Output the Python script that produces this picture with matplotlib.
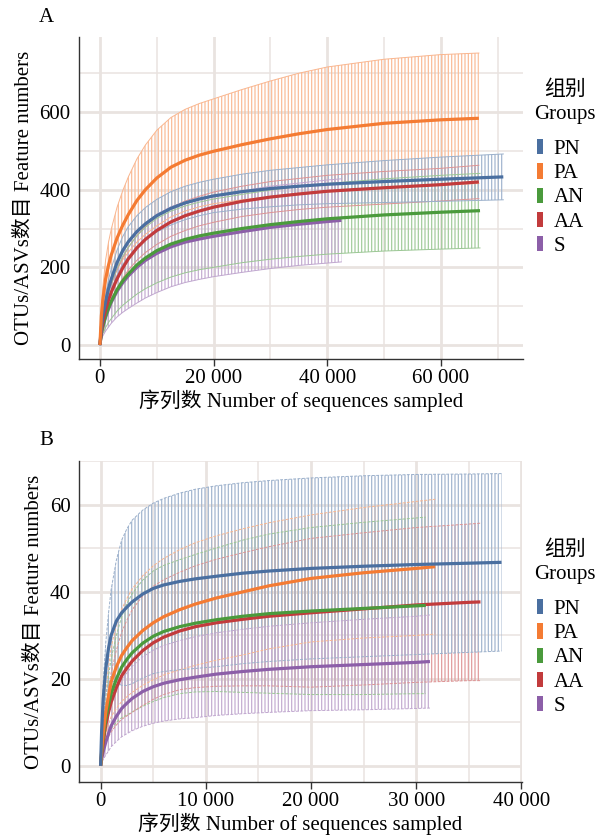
import matplotlib
matplotlib.use('Agg')
import matplotlib.pyplot as plt
import matplotlib.patches as mpatches
import numpy as np
from matplotlib.colors import to_rgb
from matplotlib.ticker import MultipleLocator, FuncFormatter

plt.rcParams['font.family'] = ['Liberation Serif', 'Noto Sans CJK SC']
plt.rcParams['hatch.linewidth'] = 0.9

GROUPS = ['PN', 'PA', 'AN', 'AA', 'S']
COLORS = {'PN': '#4a6fa0', 'PA': '#f47b33', 'AN': '#4a9a3c',
          'AA': '#c23b3c', 'S': '#8c5fa8'}

# ---- panel A: OTUs (depth, mean, sd) ----
A_PA_DEPTH = [0, 250, 500, 1000, 1500, 2000, 3000, 4000, 5000, 6500, 8000,
              10000, 12500, 15000, 17500, 20000, 25000, 30000, 35000, 40000,
              50000, 60000, 66700]
A_PA_MEAN = [0, 75, 115, 170, 205, 232, 275, 308, 336, 372, 400, 430, 458,
             476, 489, 499, 516, 531, 544, 555, 571, 580, 584]
A_PA_SD = [0, 22, 33, 49, 59, 67, 79, 89, 97, 107, 115, 123, 128, 131, 133,
           135, 142, 149, 156, 161, 165, 168, 168]

A_PN_DEPTH = [0, 250, 500, 1000, 1500, 2000, 3000, 4000, 5000, 6500, 8000,
              10000, 12500, 15000, 17500, 20000, 25000, 30000, 35000, 40000,
              50000, 60000, 71000]
A_PN_MEAN = [0, 45, 75, 112, 145, 170, 212, 243, 266, 292, 312, 333, 352,
             366, 376, 384, 395, 403, 409, 414, 421, 427, 433]
A_PN_SD = [0, 8, 12, 18, 23, 27, 32, 36, 39, 41, 42, 42, 43, 43, 43, 43, 45,
           47, 48, 50, 54, 57, 59]

A_AA_DEPTH = [0, 250, 500, 1000, 1500, 2000, 3000, 4000, 5000, 6500, 8000,
              10000, 12500, 15000, 17500, 20000, 25000, 30000, 35000, 40000,
              50000, 60000, 66700]
A_AA_MEAN = [0, 35, 58, 90, 115, 136, 170, 198, 222, 250, 272, 295, 317, 333,
             345, 355, 370, 381, 389, 396, 405, 413, 420]
A_AA_SD = [0, 6, 9, 13, 16, 19, 23, 26, 29, 32, 34, 36, 37, 38, 38, 39, 39,
           40, 40, 41, 42, 42, 43]

A_AN_DEPTH = [0, 250, 500, 1000, 1500, 2000, 3000, 4000, 5000, 6500, 8000,
              10000, 12500, 15000, 17500, 20000, 25000, 30000, 35000, 40000,
              50000, 60000, 66900]
A_AN_MEAN = [0, 30, 48, 75, 96, 113, 142, 165, 183, 206, 224, 243, 260, 272,
             281, 288, 300, 310, 318, 325, 335, 342, 346]
A_AN_SD = [0, 12, 20, 30, 38, 45, 55, 63, 69, 75, 79, 83, 85, 86, 87, 88, 88,
           89, 90, 91, 93, 95, 96]

A_S_DEPTH = [0, 250, 500, 1000, 1500, 2000, 3000, 4000, 5000, 6500, 8000,
             10000, 12500, 15000, 17500, 20000, 25000, 30000, 35000, 40000,
             42500]
A_S_MEAN = [0, 30, 47, 72, 92, 110, 138, 160, 178, 200, 218, 236, 253, 265,
            273, 280, 292, 303, 311, 318, 321]
A_S_SD = [0, 15, 24, 36, 46, 54, 66, 76, 84, 92, 97, 101, 103, 104, 104, 104,
          105, 106, 106, 107, 107]

# ---- panel B: ASVs (depth, mean, sd) ----
B_PN_DEPTH = [0, 100, 250, 500, 750, 1000, 1500, 2000, 2500, 3000, 4000, 5000,
              6000, 7500, 9000, 11000, 13500, 16000, 20000, 25000, 30000,
              35000, 38100]
B_PN_MEAN = [0, 8, 15.5, 22.5, 27, 30, 33.3, 35.2, 36.5, 37.7, 39.5, 40.8,
             41.6, 42.4, 43, 43.6, 44.3, 44.8, 45.4, 45.9, 46.3, 46.6, 46.8]
B_PN_SD = [0, 2, 4, 6, 8, 10.5, 14, 16.7, 18, 18.8, 19.3, 19.6, 19.9, 20.3,
           20.6, 20.8, 20.8, 20.8, 20.8, 20.8, 20.7, 20.5, 20.4]

B_PA_DEPTH = [0, 100, 250, 500, 750, 1000, 1500, 2000, 2500, 3000, 4000, 5000,
              6000, 7500, 9000, 11000, 13500, 16000, 20000, 25000, 30000,
              31800]
B_PA_MEAN = [0, 3.5, 7.5, 12.5, 16, 19.3, 22.8, 25.4, 27.2, 28.8, 31.1, 32.9,
             34.3, 35.9, 37.2, 38.6, 40, 41.4, 43.1, 44.4, 45.4, 45.8]
B_PA_SD = [0, 1.5, 3, 5, 6.5, 8, 9.6, 10.6, 11.3, 11.9, 12.6, 13.1, 13.4,
           13.8, 14.1, 14.3, 14.5, 14.5, 14.6, 15, 15.4, 15.5]

B_AN_DEPTH = [0, 100, 250, 500, 750, 1000, 1500, 2000, 2500, 3000, 4000, 5000,
              6000, 7500, 9000, 11000, 13500, 16000, 20000, 25000, 30000,
              30900]
B_AN_MEAN = [0, 3, 6.5, 11, 14, 16.6, 20, 22.7, 24.5, 26, 28.2, 29.8, 30.9,
             32, 32.8, 33.6, 34.4, 35, 35.6, 36.2, 36.8, 36.9]
B_AN_SD = [0, 1.5, 3, 5, 6.5, 8, 10, 11.6, 12.8, 13.6, 14.5, 15, 15.2, 15.4,
           15.8, 16.5, 17.5, 18.3, 19.2, 19.8, 20.2, 20.3]

B_AA_DEPTH = [0, 100, 250, 500, 750, 1000, 1500, 2000, 2500, 3000, 4000, 5000,
              6000, 7500, 9000, 11000, 13500, 16000, 20000, 25000, 30000,
              35000, 36100]
B_AA_MEAN = [0, 2.5, 5.5, 9.5, 12.3, 14.6, 18, 20.7, 22.5, 24.1, 26.5, 28.3,
             29.6, 31, 32, 32.9, 33.7, 34.4, 35.2, 36.1, 37, 37.6, 37.7]
B_AA_SD = [0, 1.2, 2.5, 4.2, 5.6, 6.8, 8.6, 10, 11, 11.8, 12.6, 13, 13.2,
           13.5, 14, 14.6, 15.3, 16, 17.1, 17.5, 17.8, 18, 18.1]

B_S_DEPTH = [0, 100, 250, 500, 750, 1000, 1500, 2000, 2500, 3000, 4000, 5000,
             6000, 7500, 9000, 11000, 13500, 16000, 20000, 25000, 30000,
             31300]
B_S_MEAN = [0, 1.5, 3.3, 5.5, 7.4, 9.2, 11.4, 13.2, 14.4, 15.5, 17.1, 18.2,
            19, 19.8, 20.4, 21.1, 21.7, 22.2, 22.8, 23.3, 23.8, 24]
B_S_SD = [0, 0.8, 1.8, 3, 4, 4.8, 5.8, 6.5, 7, 7.4, 8, 8.4, 8.7, 9, 9.3, 9.5,
          9.7, 9.9, 10.1, 10.4, 10.6, 10.7]

# draw order of the bands (later on top)
PANEL_A = {'PA': (A_PA_DEPTH, A_PA_MEAN, A_PA_SD),
           'AA': (A_AA_DEPTH, A_AA_MEAN, A_AA_SD),
           'AN': (A_AN_DEPTH, A_AN_MEAN, A_AN_SD),
           'PN': (A_PN_DEPTH, A_PN_MEAN, A_PN_SD),
           'S': (A_S_DEPTH, A_S_MEAN, A_S_SD)}
PANEL_B = {'PA': (B_PA_DEPTH, B_PA_MEAN, B_PA_SD),
           'AN': (B_AN_DEPTH, B_AN_MEAN, B_AN_SD),
           'AA': (B_AA_DEPTH, B_AA_MEAN, B_AA_SD),
           'PN': (B_PN_DEPTH, B_PN_MEAN, B_PN_SD),
           'S': (B_S_DEPTH, B_S_MEAN, B_S_SD)}

GRID = '#e9e3e0'
FS = 15


def tint(c, a):
    r, g, b = to_rgb(c)
    return (1 - a + a * r, 1 - a + a * g, 1 - a + a * b)


def thousands(v, pos):
    return '{:,}'.format(int(v)).replace(',', ' ')


def draw_panel(ax, data, line_order, xmaj, ymaj, xlim, ylim, edge_ls):
    z = 2
    for g, (d, m, s) in data.items():
        d = np.array(d, float)
        m = np.array(m, float)
        s = np.array(s, float)
        c = COLORS[g]
        ax.fill_between(d, m - s, m + s, facecolor='none',
                        edgecolor=tint(c, 0.5), hatch='|' * 5,
                        linewidth=0, zorder=z)
        ax.plot(d, m + s, color=tint(c, 0.55), lw=0.7, ls=edge_ls, zorder=4)
        ax.plot(d, m - s, color=tint(c, 0.55), lw=0.7, ls=edge_ls, zorder=4)
        z += 0.2
    for g in line_order:
        d, m, s = data[g]
        ax.plot(d, m, color=COLORS[g], lw=2.3, zorder=5,
                solid_capstyle='butt', solid_joinstyle='round')

    ax.set_xlim(*xlim)
    ax.set_ylim(*ylim)
    ax.xaxis.set_major_locator(MultipleLocator(xmaj))
    ax.xaxis.set_minor_locator(MultipleLocator(xmaj / 2))
    ax.yaxis.set_major_locator(MultipleLocator(ymaj))
    ax.yaxis.set_minor_locator(MultipleLocator(ymaj / 2))
    ax.xaxis.set_major_formatter(FuncFormatter(thousands))
    ax.grid(which='major', color=GRID, lw=2.0, zorder=0)
    ax.grid(which='minor', color=GRID, lw=1.1, zorder=0)
    ax.set_axisbelow(True)
    for sp in ['top', 'right']:
        ax.spines[sp].set_visible(False)
    for sp in ['left', 'bottom']:
        ax.spines[sp].set_color('#333333')
        ax.spines[sp].set_linewidth(1.0)
    ax.tick_params(axis='x', which='major', length=5, width=1,
                   color='#333333', labelsize=FS, pad=2)
    ax.tick_params(axis='y', which='major', length=0, labelsize=FS, pad=6)
    ax.tick_params(which='minor', length=0)
    ax.set_xlabel('序列数 Number of sequences sampled', fontsize=FS,
                  labelpad=1)
    ax.set_ylabel('OTUs/ASVs数目 Feature numbers', fontsize=FS, labelpad=4)


fig = plt.figure(figsize=(6.07, 8.36), dpi=100)
axA = fig.add_axes([0.130, 0.5706, 0.731, 0.385])
axB = fig.add_axes([0.130, 0.0646, 0.730, 0.384])

draw_panel(axA, PANEL_A, ['S', 'AN', 'AA', 'PN', 'PA'], 20000, 200,
           (-3700, 74400), (-36, 793), '-')
draw_panel(axB, PANEL_B, ['S', 'AA', 'AN', 'PA', 'PN'], 10000, 20,
           (-2060, 40050), (-3.7, 70.1), (0, (3, 1.5)))

fig.text(0.077, 0.979, 'A', fontsize=FS, ha='center', va='center')
fig.text(0.077, 0.4725, 'B', fontsize=FS, ha='center', va='center')

handles = [mpatches.Patch(facecolor=COLORS[g], edgecolor='none', label=g)
           for g in GROUPS]
# legend titles as two lines of text, entries below them
for ty, top in [(90, 139), (550, 599)]:
    fig.text(0.931, 1 - ty / 836, '组别', fontsize=FS, ha='center',
             va='center')
    fig.text(0.931, 1 - (ty + 25) / 836, 'Groups', fontsize=FS,
             ha='center', va='center')
    fig.legend(handles=handles, loc='upper left',
               bbox_to_anchor=(0.885, 1 - top / 836), frameon=False,
               fontsize=FS, handlelength=0.3, handleheight=0.75,
               handletextpad=0.5, labelspacing=0.21, borderpad=0.0,
               borderaxespad=0.0)

fig.savefig('out.png', dpi=100, facecolor='white')
